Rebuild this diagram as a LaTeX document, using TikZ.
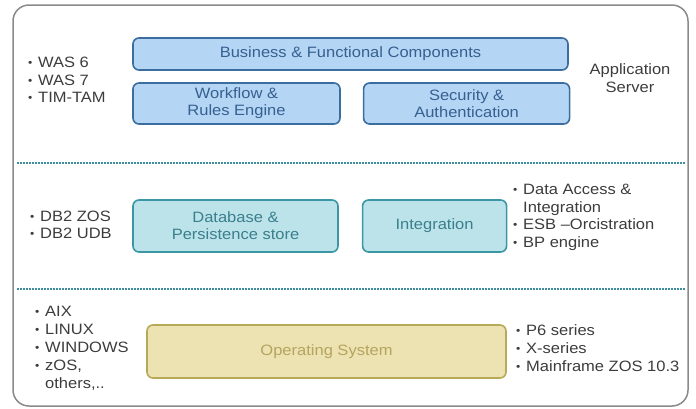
\documentclass[tikz,border=0pt]{standalone}
\usepackage{fontspec}
\setmainfont{Liberation Sans}[FakeStretch=1.1]
\usetikzlibrary{positioning}

\definecolor{appfill}{HTML}{B5D5F5}
\definecolor{appdraw}{HTML}{3B6E9E}
\definecolor{apptext}{HTML}{35608F}
\definecolor{datfill}{HTML}{BCE3EA}
\definecolor{datdraw}{HTML}{3C97A5}
\definecolor{dattext}{HTML}{3A7F8C}
\definecolor{osfill}{HTML}{EDE3B2}
\definecolor{osdraw}{HTML}{B8A957}
\definecolor{ostext}{HTML}{B5A45E}
\definecolor{listtext}{HTML}{3C3C3C}
\definecolor{framegray}{HTML}{8A8A8A}
\definecolor{septeal}{HTML}{3D8F9E}

\newcommand{\itm}{\makebox[10pt][l]{\raisebox{1pt}{\fontsize{11}{11}\selectfont\textbullet}}}
\newcommand{\gap}{\hspace*{10pt}}

\begin{document}
\begin{tikzpicture}[x=1pt,y=-1pt]
        \tikzset{Layer/.style={%
                shape=rectangle,%
                rounded corners=6pt,%
                line width=1.6pt,%
                inner sep=0pt,%
                align=center,%
                font=\fontsize{15}{17}\selectfont,%
            },
            AppBox/.style={Layer, draw=appdraw, fill=appfill, text=apptext},
            DataBox/.style={Layer, draw=datdraw, fill=datfill, text=dattext},
            OSBox/.style={Layer, draw=osdraw, fill=osfill, text=ostext},
            ListText/.style={%
                inner sep=0pt,%
                align=left,%
                anchor=west,%
                text=listtext,%
                font=\fontsize{15}{17.5}\selectfont,%
            },
            Sep/.style={draw=septeal, line width=1.6pt, dash pattern=on 1.5pt off 1.5pt}}

        \useasboundingbox (0,0) rectangle (696,408);
        \draw[framegray, line width=1.5pt, rounded corners=16pt] (13,5) rectangle (688,406);

        % application server layer
        \node[AppBox, minimum width=435pt, minimum height=32pt] (bus) at (350.5,54) {Business \& Functional Components};
        \node[AppBox, minimum width=207pt, minimum height=41pt] (wf) at (236.5,103.5) {Workflow \&\\Rules Engine};
        \node[AppBox, minimum width=206pt, minimum height=41pt, right=22pt of wf] (sec) {Security \&\\Authentication};
        \node[ListText] (was) at (28,80) {\itm WAS 6\\\itm WAS 7\\\itm TIM-TAM};
        \node[ListText, anchor=center, align=center] (app) at (630,78) {Application\\Server};

        \coordinate (s1) at (17,163);
        \coordinate (e1) at (686,163);
        \draw[Sep] (s1) -- (e1);

        % data layer
        \node[DataBox, minimum width=205pt, minimum height=52pt] (db) at (235.5,226) {Database \&\\Persistence store};
        \node[DataBox, minimum width=144pt, minimum height=52pt, right=23pt of db] (int) {Integration};
        \node[ListText] (dbl) at (30,225) {\itm DB2 ZOS\\\itm DB2 UDB};
        \node[ListText] (dai) at (513,217.5) {\itm Data Access \&\\\gap Integration\\\itm ESB --Orcistration\\\itm BP engine};

        \coordinate (s2) at (17,289);
        \coordinate (e2) at (686,289);
        \draw[Sep] (s2) -- (e2);

        % operating system layer
        \node[OSBox, minimum width=359pt, minimum height=53pt] (os) at (326.5,351.5) {Operating System};
        \node[ListText, font=\fontsize{15}{18}\selectfont] (osl) at (35,348) {\itm AIX\\\itm LINUX\\\itm WINDOWS\\\itm zOS,\\\gap others,..};
        \node[ListText, font=\fontsize{15}{18}\selectfont] (hw) at (516,348) {\itm P6 series\\\itm X-series\\\itm Mainframe ZOS 10.3};
\end{tikzpicture}
\end{document}
